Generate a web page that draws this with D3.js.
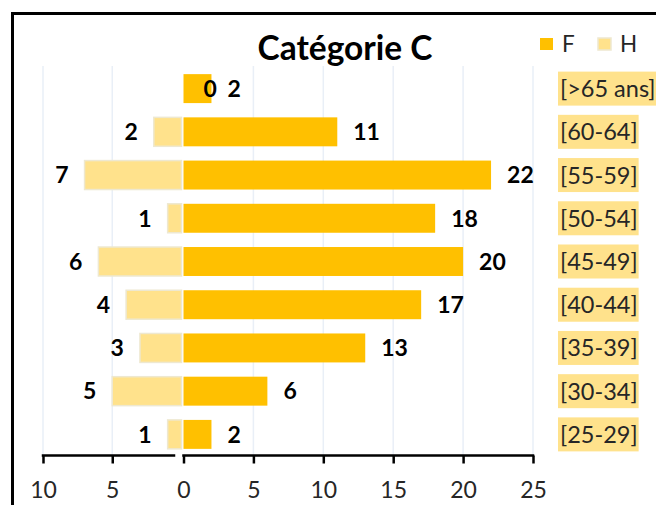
<!DOCTYPE html>
<html>
<head>
<meta charset="utf-8">
<script src="https://cdn.jsdelivr.net/npm/d3@7"></script>
<style>
  html, body { margin: 0; padding: 0; background: #fff; }
  svg { display: block; font-family: Lato, "Noto Sans", sans-serif; }
</style>
</head>
<body>
<svg id="chart" width="656" height="505"></svg>
<script>
// Age groups, top to bottom
const categories = ['[>65 ans]', '[60-64]', '[55-59]', '[50-54]', '[45-49]', '[40-44]', '[35-39]', '[30-34]', '[25-29]'];
// Women (F) and men (H) counts
const valuesF = [2, 11, 22, 18, 20, 17, 13, 6, 2];
const valuesH = [0, 2, 7, 1, 6, 4, 3, 5, 1];
const ticksF = [0, 5, 10, 15, 20, 25];
const ticksH = [10, 5];
const title = 'Catégorie C';

const colorF = '#FFC000';
const colorH = '#FFE28C';
const textColor = '#262626';

const svg = d3.select('#chart');

// Outer frame (runs off the right and bottom edges)
svg.append('rect')
    .attr('x', 12.5)
    .attr('y', 13.5)
    .attr('width', 700)
    .attr('height', 600)
    .attr('fill', 'none')
    .attr('stroke', '#000')
    .attr('stroke-width', 3);

// Scales: F grows right from the centre, H grows left
const y = d3.scaleBand()
    .domain(categories)
    .range([67, 456])
    .paddingInner(0.33)
    .paddingOuter(0.165);

const xF = d3.scaleLinear().domain([0, 25]).range([183.5, 533]);
const xH = d3.scaleLinear().domain([0, 10]).range([181.5, 43]);

const axisY = 455.5;

// Gridlines
const grid = svg.append('g').attr('class', 'grid');
grid.selectAll('.gf')
    .data(ticksF.filter(d => d > 0))
    .enter()
    .append('line')
    .attr('x1', d => xF(d))
    .attr('x2', d => xF(d))
    .attr('y1', 66)
    .attr('y2', axisY)
    .attr('stroke', '#E9EFF7')
    .attr('stroke-width', 1.5);
grid.selectAll('.gh')
    .data(ticksH)
    .enter()
    .append('line')
    .attr('x1', d => xH(d))
    .attr('x2', d => xH(d))
    .attr('y1', 66)
    .attr('y2', axisY)
    .attr('stroke', '#E9EFF7')
    .attr('stroke-width', 1.5);

// H bars
svg.append('g').selectAll('rect')
    .data(valuesH)
    .enter()
    .append('rect')
    .attr('x', d => xH(d))
    .attr('y', (d, i) => y(categories[i]))
    .attr('width', d => xH(0) - xH(d))
    .attr('height', y.bandwidth())
    .attr('fill', colorH)
    .attr('stroke', '#EEE8D0')
    .attr('stroke-width', d => d > 0 ? 1.5 : 0);

// F bars
svg.append('g').selectAll('rect')
    .data(valuesF)
    .enter()
    .append('rect')
    .attr('x', xF(0))
    .attr('y', (d, i) => y(categories[i]))
    .attr('width', d => xF(d) - xF(0))
    .attr('height', y.bandwidth())
    .attr('fill', colorF);

// Data labels
const labelStyle = sel => sel
    .attr('dy', '0.36em')
    .style('font-size', '23px')
    .style('font-weight', 'bold')
    .style('fill', '#000');

svg.append('g').selectAll('text')
    .data(valuesH)
    .enter()
    .append('text')
    .attr('x', d => d > 0 ? xH(d) - 16 : xH(0) + 22)
    .attr('y', (d, i) => y(categories[i]) + y.bandwidth() / 2)
    .attr('text-anchor', d => d > 0 ? 'end' : 'start')
    .call(labelStyle)
    .text(d => d);

svg.append('g').selectAll('text')
    .data(valuesF)
    .enter()
    .append('text')
    .attr('x', d => xF(d) + 16)
    .attr('y', (d, i) => y(categories[i]) + y.bandwidth() / 2)
    .call(labelStyle)
    .text(d => d);

// Category labels on the right, with highlighted background
const catG = svg.append('g').selectAll('g')
    .data(categories)
    .enter()
    .append('g')
    .attr('transform', d => `translate(560, ${y(d) + y.bandwidth() / 2})`);

const catText = catG.append('text')
    .attr('dy', '0.36em')
    .style('font-size', '23.5px')
    .style('fill', textColor)
    .text(d => d);

catText.each(function() {
    const bb = this.getBBox();
    d3.select(this.parentNode).insert('rect', 'text')
        .attr('x', bb.x - 2)
        .attr('y', -17)
        .attr('width', bb.width + 3)
        .attr('height', 34)
        .attr('fill', colorH);
});

// Axes
const axisF = d3.axisBottom(xF).tickValues(ticksF).tickSize(8).tickSizeOuter(0).tickPadding(18);
const axisH = d3.axisBottom(xH).tickValues(ticksH).tickSize(8).tickSizeOuter(0).tickPadding(18);

const gF = svg.append('g')
    .attr('transform', `translate(0, ${axisY})`)
    .call(axisF);
const gH = svg.append('g')
    .attr('transform', `translate(0, ${axisY})`)
    .call(axisH);

[gF, gH].forEach(g => {
    g.select('.domain').remove();
    g.selectAll('line').attr('stroke', '#000').attr('stroke-width', 2.5);
    g.selectAll('text')
        .style('font-family', 'Lato, sans-serif')
        .style('font-size', '23px')
        .style('fill', textColor);
});

// Axis baselines
svg.append('line')
    .attr('x1', xF(0)).attr('x2', xF(25))
    .attr('y1', axisY).attr('y2', axisY)
    .attr('stroke', '#000').attr('stroke-width', 2.5)
    .attr('stroke-linecap', 'square');
svg.append('line')
    .attr('x1', xH(10)).attr('x2', 174)
    .attr('y1', axisY).attr('y2', axisY)
    .attr('stroke', '#000').attr('stroke-width', 2.5)
    .attr('stroke-linecap', 'square');

// Title
svg.append('text')
    .attr('x', 345)
    .attr('y', 60)
    .attr('text-anchor', 'middle')
    .style('font-size', '33.5px')
    .style('font-weight', 'bold')
    .style('fill', '#000')
    .text(title);

// Legend
const legendItems = [
    { label: 'F', color: colorF, x: 540, stroke: 'none' },
    { label: 'H', color: colorH, x: 598, stroke: '#EEE8D0' }
];
const legend = svg.append('g').selectAll('g')
    .data(legendItems)
    .enter()
    .append('g')
    .attr('transform', d => `translate(${d.x}, 38)`);
legend.append('rect')
    .attr('width', 13)
    .attr('height', 12)
    .attr('fill', d => d.color)
    .attr('stroke', d => d.stroke)
    .attr('stroke-width', 1.5);
legend.append('text')
    .attr('x', 22)
    .attr('y', 6)
    .attr('dy', '0.36em')
    .style('font-size', '22.5px')
    .style('fill', textColor)
    .text(d => d.label);
</script>
</body>
</html>
